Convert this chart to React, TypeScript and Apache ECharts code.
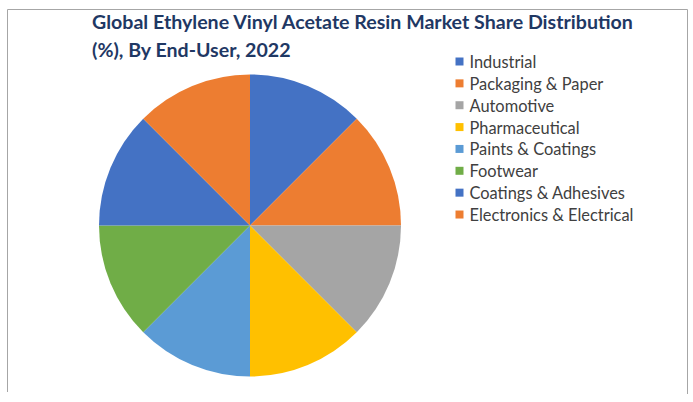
import React, { useEffect, useRef } from "react";
import * as echarts from "echarts";

// End-user segments and their market share (%), 2022
const categories: string[] = [
  "Industrial",
  "Packaging & Paper",
  "Automotive",
  "Pharmaceutical",
  "Paints & Coatings",
  "Footwear",
  "Coatings & Adhesives",
  "Electronics & Electrical",
];
const shares: number[] = [12.5, 12.5, 12.5, 12.5, 12.5, 12.5, 12.5, 12.5];
const sliceColors: string[] = [
  "#4472C4",
  "#ED7D31",
  "#A5A5A5",
  "#FFC000",
  "#5B9BD5",
  "#70AD47",
  "#4472C4",
  "#ED7D31",
];
const titleLines: string[] = [
  "Global Ethylene Vinyl Acetate Resin Market Share Distribution",
  "(%), By End-User, 2022",
];

export default function App() {
  const ref = useRef<HTMLDivElement>(null);

  useEffect(() => {
    if (!ref.current) return;
    const chart = echarts.init(ref.current, undefined, { renderer: "svg" });
    const frameColor = "#A6A6A6";
    chart.setOption({
      animation: false,
      backgroundColor: "#ffffff",
      title: {
        text: titleLines.join("\n"),
        left: 87,
        top: 3,
        textStyle: {
          fontFamily: "Lato",
          fontWeight: "bold",
          fontSize: 19.6,
          lineHeight: 27.5,
          color: "#1F3864",
        },
      },
      legend: {
        orient: "vertical",
        left: 450.5,
        top: 48,
        icon: "rect",
        itemWidth: 8,
        itemHeight: 8,
        itemGap: 4.86,
        selectedMode: false,
        textStyle: {
          fontFamily: "Lato",
          fontSize: 16.4,
          lineHeight: 17,
          color: "#404040",
          padding: [0, 0, 0, 1],
        },
        data: categories,
      },
      graphic: [
        {
          type: "polyline",
          shape: {
            points: [
              [7.5, 392],
              [7.5, 9.5],
              [687.5, 9.5],
              [687.5, 394],
            ],
          },
          style: { stroke: frameColor, lineWidth: 1, fill: "none" },
          silent: true,
        },
      ],
      series: [
        {
          type: "pie",
          center: [250, 225.5],
          radius: 151,
          startAngle: 90,
          clockwise: true,
          label: { show: false },
          labelLine: { show: false },
          itemStyle: { borderWidth: 0 },
          emphasis: { disabled: true },
          data: categories.map((name, i) => ({
            name,
            value: shares[i],
            itemStyle: { color: sliceColors[i] },
          })),
        },
      ],
    });
    return () => chart.dispose();
  }, []);

  return (
    <div
      ref={ref}
      style={{ position: "fixed", left: 0, top: 0, width: 693, height: 402 }}
    />
  );
}
